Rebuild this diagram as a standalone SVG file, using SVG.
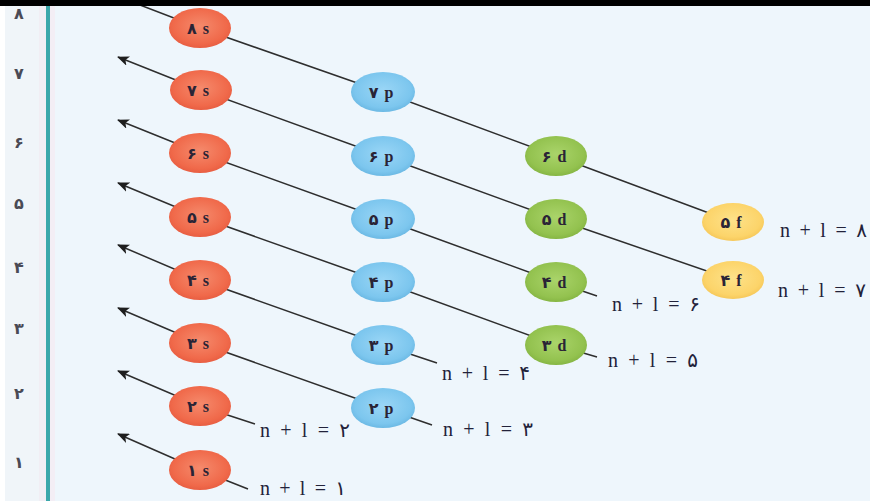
<svg xmlns="http://www.w3.org/2000/svg" width="870" height="501" viewBox="0 0 870 501">
<defs>
<style>
.ln{fill:none;stroke:#2e2e2e;stroke-width:1.5}
.nt{font-family:"Liberation Serif","DejaVu Sans",serif;font-size:16px;font-weight:bold;fill:#2a2436;text-anchor:middle;word-spacing:2px}
.lab{font-family:"Liberation Serif","DejaVu Sans",serif;font-size:20px;fill:#22223a}
.num{font-family:"DejaVu Sans",sans-serif;font-size:16px;font-weight:bold;fill:#4a4a55;text-anchor:middle}
.s{fill:url(#gs)}
.p{fill:url(#gp)}
.d{fill:url(#gd)}
.f{fill:url(#gf)}
</style>
<radialGradient id="gs" cx="50%" cy="45%" r="55%"><stop offset="0" stop-color="#f58a6c"/><stop offset="0.8" stop-color="#f0694a"/><stop offset="1" stop-color="#e85e42"/></radialGradient>
<radialGradient id="gp" cx="50%" cy="45%" r="55%"><stop offset="0" stop-color="#9ad6f6"/><stop offset="0.8" stop-color="#7cc6ee"/><stop offset="1" stop-color="#6cb9e4"/></radialGradient>
<radialGradient id="gd" cx="50%" cy="45%" r="55%"><stop offset="0" stop-color="#aad46a"/><stop offset="0.8" stop-color="#93c24f"/><stop offset="1" stop-color="#86b644"/></radialGradient>
<radialGradient id="gf" cx="50%" cy="45%" r="55%"><stop offset="0" stop-color="#fde28a"/><stop offset="0.8" stop-color="#fcd46a"/><stop offset="1" stop-color="#f6c85a"/></radialGradient>
<marker id="ar" viewBox="0 0 12 10" refX="11" refY="5" markerWidth="12" markerHeight="10" markerUnits="userSpaceOnUse" orient="auto-start-reverse"><path d="M0,0 L12,5 L0,10 L3,5 Z" fill="#1e1e1e"/></marker>
</defs>
<rect x="0" y="0" width="870" height="501" fill="#eef6fc"/>
<rect x="0" y="0" width="5" height="501" fill="#ffffff"/>
<rect x="5" y="0" width="34" height="501" fill="#f0f5f9"/>
<rect x="39" y="0" width="7" height="501" fill="#f1eef4"/>
<rect x="46" y="0" width="4" height="501" fill="#3ba7aa"/>
<rect x="50" y="0" width="5" height="501" fill="#f3eef5"/>
<g id="axis">
<text class="num" x="19" y="19">۸</text>
<text class="num" x="19" y="79">۷</text>
<text class="num" x="19" y="148">۶</text>
<text class="num" x="19" y="209">۵</text>
<text class="num" x="19" y="273">۴</text>
<text class="num" x="19" y="334">۳</text>
<text class="num" x="19" y="399">۲</text>
<text class="num" x="19" y="468">۱</text>
</g>
<g id="connectors">
<polyline class="ln" points="127,0 200,28 383,92 556,156 733,222"/>
<polyline class="ln" marker-start="url(#ar)" points="118,57 201,90 383,156 556,219 733,280"/>
<polyline class="ln" marker-start="url(#ar)" points="118,120 200,153 383,219 556,282 597,296"/>
<polyline class="ln" marker-start="url(#ar)" points="118,183 200,217 383,282 556,345 597,357"/>
<polyline class="ln" marker-start="url(#ar)" points="118,245 200,280 383,345 437,363"/>
<polyline class="ln" marker-start="url(#ar)" points="118,308 200,343 383,408 432,425"/>
<polyline class="ln" marker-start="url(#ar)" points="118,371 200,406 255,424"/>
<polyline class="ln" marker-start="url(#ar)" points="118,434 200,470 248,489"/>
</g>
<g id="n8s"><ellipse class="s" cx="200" cy="28" rx="31" ry="20"/><text class="nt" x="198" y="34">۸ s</text></g>
<g id="n7s"><ellipse class="s" cx="201" cy="90" rx="31" ry="20"/><text class="nt" x="198" y="96">۷ s</text></g>
<g id="n6s"><ellipse class="s" cx="200" cy="153" rx="31" ry="20"/><text class="nt" x="198" y="159">۶ s</text></g>
<g id="n5s"><ellipse class="s" cx="200" cy="217" rx="31" ry="20"/><text class="nt" x="198" y="223">۵ s</text></g>
<g id="n4s"><ellipse class="s" cx="200" cy="280" rx="31" ry="20"/><text class="nt" x="198" y="286">۴ s</text></g>
<g id="n3s"><ellipse class="s" cx="200" cy="343" rx="31" ry="20"/><text class="nt" x="198" y="349">۳ s</text></g>
<g id="n2s"><ellipse class="s" cx="200" cy="406" rx="31" ry="20"/><text class="nt" x="198" y="412">۲ s</text></g>
<g id="n1s"><ellipse class="s" cx="200" cy="470" rx="31" ry="20"/><text class="nt" x="198" y="476">۱ s</text></g>
<g id="n7p"><ellipse class="p" cx="383" cy="92" rx="32" ry="20"/><text class="nt" x="381" y="98">۷ p</text></g>
<g id="n6p"><ellipse class="p" cx="383" cy="156" rx="32" ry="20"/><text class="nt" x="381" y="162">۶ p</text></g>
<g id="n5p"><ellipse class="p" cx="383" cy="219" rx="32" ry="20"/><text class="nt" x="381" y="225">۵ p</text></g>
<g id="n4p"><ellipse class="p" cx="383" cy="282" rx="32" ry="20"/><text class="nt" x="381" y="288">۴ p</text></g>
<g id="n3p"><ellipse class="p" cx="383" cy="345" rx="32" ry="20"/><text class="nt" x="381" y="351">۳ p</text></g>
<g id="n2p"><ellipse class="p" cx="383" cy="408" rx="32" ry="20"/><text class="nt" x="381" y="414">۲ p</text></g>
<g id="n6d"><ellipse class="d" cx="556" cy="156" rx="31" ry="20"/><text class="nt" x="554" y="162">۶ d</text></g>
<g id="n5d"><ellipse class="d" cx="556" cy="219" rx="31" ry="20"/><text class="nt" x="554" y="225">۵ d</text></g>
<g id="n4d"><ellipse class="d" cx="556" cy="282" rx="31" ry="20"/><text class="nt" x="554" y="288">۴ d</text></g>
<g id="n3d"><ellipse class="d" cx="556" cy="345" rx="31" ry="20"/><text class="nt" x="554" y="351">۳ d</text></g>
<g id="n5f"><ellipse class="f" cx="733" cy="222" rx="31" ry="19"/><text class="nt" x="731" y="228">۵ f</text></g>
<g id="n4f"><ellipse class="f" cx="733" cy="280" rx="31" ry="19"/><text class="nt" x="731" y="286">۴ f</text></g>
<g id="labels">
<text class="lab" x="260" y="495" textLength="86" lengthAdjust="spacing">n + l = ۱</text>
<text class="lab" x="260" y="437" textLength="90" lengthAdjust="spacing">n + l = ۲</text>
<text class="lab" x="443" y="436" textLength="90" lengthAdjust="spacing">n + l = ۳</text>
<text class="lab" x="442" y="380" textLength="88" lengthAdjust="spacing">n + l = ۴</text>
<text class="lab" x="608" y="367" textLength="90" lengthAdjust="spacing">n + l = ۵</text>
<text class="lab" x="612" y="311" textLength="88" lengthAdjust="spacing">n + l = ۶</text>
<text class="lab" x="778" y="297" textLength="88" lengthAdjust="spacing">n + l = ۷</text>
<text class="lab" x="780" y="237" textLength="87" lengthAdjust="spacing">n + l = ۸</text>
</g>
<rect x="0" y="0" width="870" height="6" fill="#000000"/>
</svg>
